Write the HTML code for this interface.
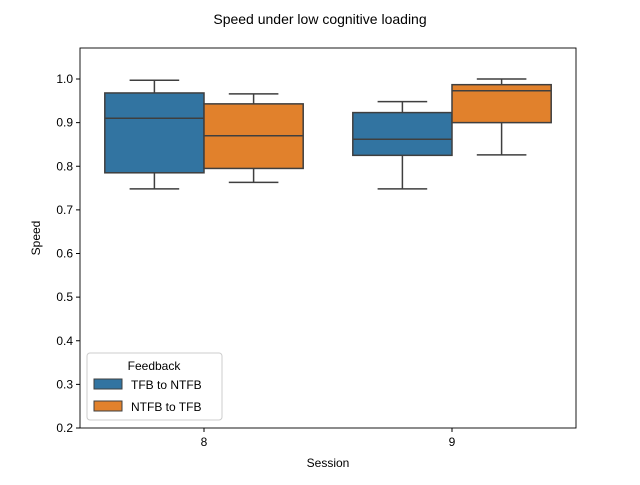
<!DOCTYPE html>
<html><head><meta charset="utf-8"><style>
body{margin:0;background:#fff;}
svg{font-family:"Liberation Sans","DejaVu Sans",sans-serif;}
</style></head><body>
<svg id="chart" width="640" height="480" viewBox="0 0 640 480">
<rect width="640" height="480" fill="#fff"/>
<text x="320" y="24" font-size="14" text-anchor="middle">Speed under low cognitive loading</text>
<g id="plot"></g>
<rect x="80" y="48" width="496" height="380" fill="none" stroke="#000" stroke-width="0.9"/>
<text x="328" y="467" font-size="12" text-anchor="middle">Session</text>
<text transform="translate(40,238) rotate(-90)" font-size="12" text-anchor="middle">Speed</text>
<g>
<rect x="87" y="353" width="135" height="67" rx="3" fill="#fff" fill-opacity="0.85" stroke="#ccc"/>
<text x="154" y="370" font-size="12" text-anchor="middle">Feedback</text>
<rect x="94" y="379" width="28" height="10" fill="#3274a1" stroke="#3f3f3f"/>
<text x="131" y="389" font-size="12">TFB to NTFB</text>
<rect x="94" y="401" width="28" height="10" fill="#e1812c" stroke="#3f3f3f"/>
<text x="131" y="411" font-size="12">NTFB to TFB</text>
</g>
</svg>
<script>
const categories=["8","9"];
const seriesNames=["TFB to NTFB","NTFB to TFB"];
const seriesColors=["#3274a1","#e1812c"];
// [low, q1, median, q3, high] per category
const tfbStats=[[0.748,0.785,0.910,0.968,0.997],[0.748,0.825,0.862,0.923,0.948]];
const ntfbStats=[[0.763,0.795,0.870,0.943,0.966],[0.826,0.900,0.973,0.987,1.000]];
const yTicks=[0.2,0.3,0.4,0.5,0.6,0.7,0.8,0.9,1.0];
const yMin=0.2,yMax=1.0;
const L=80,R=576,T=48,B=428,yTop=79;
const ns="http://www.w3.org/2000/svg";
const svg=document.getElementById('chart'),g=document.getElementById('plot');
function y(v){return B-(v-yMin)/(yMax-yMin)*(B-yTop);}
const band=(R-L)/categories.length;
function xc(i){return L+band*(i+0.5);}
function mk(tag,a){const e=document.createElementNS(ns,tag);for(const k in a)e.setAttribute(k,a[k]);g.appendChild(e);return e;}
yTicks.forEach(t=>{
 const l=mk('line',{x1:L-4,x2:L,y1:y(t),y2:y(t),stroke:'#000'});
 
 
 const tx=mk('text',{x:L-7,y:y(t)+4,'font-size':12,'text-anchor':'end'});tx.textContent=t.toFixed(1);
 
 
});
categories.forEach((c,i)=>{
 const l=mk('line',{x1:xc(i),x2:xc(i),y1:B,y2:B+4,stroke:'#000'});
 
 
 const tx=mk('text',{x:xc(i),y:B+18,'font-size':12,'text-anchor':'middle'});tx.textContent=c;
 
 
});
const all=[tfbStats,ntfbStats];
const w=band*0.8/2;
all.forEach((st,s)=>{
 categories.forEach((c,i)=>{
  const d=st[i];const x0=xc(i)-band*0.4+s*w;const xm=x0+w/2;
  const col='#3f3f3f';
  const w1=mk('line',{x1:xm,x2:xm,y1:y(d[0]),y2:y(d[1]),stroke:col,'stroke-width':1.5});
  
  
  const w2=mk('line',{x1:xm,x2:xm,y1:y(d[3]),y2:y(d[4]),stroke:col,'stroke-width':1.5});
  
  
  [0,4].forEach(k=>{const cap=mk('line',{x1:xm-w/4,x2:xm+w/4,y1:y(d[k]),y2:y(d[k]),stroke:col,'stroke-width':1.5});
   
   });
  const r=mk('rect',{x:x0,y:y(d[3]),width:w,height:y(d[1])-y(d[3]),fill:seriesColors[s],stroke:col,'stroke-width':1.5});
  
  
  const m=mk('line',{x1:x0,x2:x0+w,y1:y(d[2]),y2:y(d[2]),stroke:col,'stroke-width':1.5});
  
  
 });
});
</script>
</body></html>
